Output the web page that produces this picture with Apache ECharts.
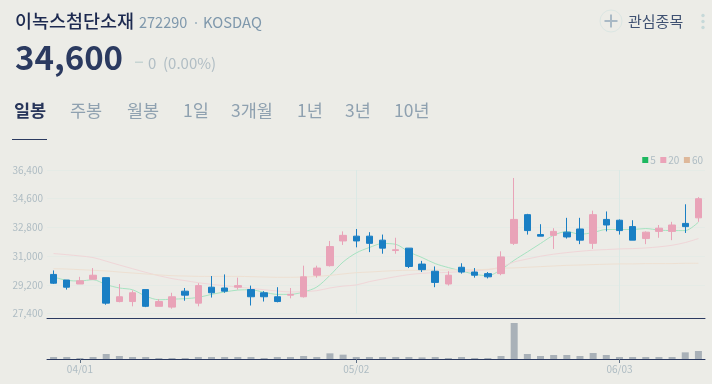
<!DOCTYPE html>
<html><head><meta charset="utf-8">
<style>html,body{margin:0;padding:0;background:#ecece7}#c{width:712px;height:384px}</style>
<script src="https://cdn.jsdelivr.net/npm/echarts@6/dist/echarts.min.js"></script>
</head><body><div id="c"></div>
<script>
const dates = ['03/28','03/29','04/01','04/02','04/03','04/04','04/05','04/08','04/09','04/10','04/11','04/12','04/15','04/16','04/17','04/18','04/19','04/22','04/23','04/24','04/25','04/26','04/29','05/02','05/03','05/07','05/08','05/09','05/10','05/13','05/14','05/15','05/16','05/17','05/20','05/21','05/22','05/23','05/24','05/27','05/28','05/29','05/30','06/03','06/04','06/05','06/07','06/10','06/11','06/12'];
const labelDates = ['04/01','05/02','06/03'];
const guideDates = ['05/02','06/03'];
const priceTicks = [27400,29200,31000,32800,34600,36400];
// open, close, low, high
const candles = [[29850,29300,29250,30100],[29500,29050,28900,29500],[29250,29450,29250,29700],[29550,29800,29550,30250],[29650,28050,27950,29650],[28150,28450,28100,29250],[28150,28700,27850,28850],[28900,27850,27800,28900],[27850,28150,27850,28300],[27800,28450,27700,28700],[28800,28550,28200,29000],[28050,29150,27850,29300],[29050,28700,28400,29750],[29000,28800,28700,29850],[29050,29150,28900,29650],[28900,28450,27900,29150],[28700,28450,28150,28800],[28450,28150,28100,29050],[28550,28600,28350,29000],[28450,29700,28400,30400],[29800,30250,29650,30400],[30400,31600,30350,31950],[31950,32300,31700,32550],[32250,31950,31550,32700],[32250,31800,31250,32500],[32000,31500,31150,32350],[31350,31400,31150,32150],[31500,30350,30250,31500],[30500,30150,30000,30700],[30050,29350,29050,30350],[29250,29800,29150,30050],[30300,30000,29900,30550],[30000,29800,29650,30250],[29900,29700,29600,30000],[29900,30950,29800,31300],[31800,33300,31700,35900],[33600,32600,32350,33650],[32350,32250,32250,33000],[32300,32550,31450,32750],[32500,32200,32100,33400],[32700,32000,31750,33400],[31800,33600,31450,33850],[33300,32950,32550,33800],[33250,32600,32350,33300],[32850,32000,32000,33250],[32100,32500,31750,32550],[32550,32750,32150,32950],[32550,32950,32000,33150],[33050,32850,32450,34250],[33400,34600,33150,34700]];
const ma5 = [29690,29480,29440,29520,29210,29000,28890,28490,28260,28300,28330,28410,28600,28750,28870,28890,28730,28600,28600,28750,29060,29790,30630,31200,31540,31790,31740,31260,30910,30530,30280,30070,29860,29770,30150,30740,31260,31790,32310,32540,32370,32480,32670,32670,32670,32730,32630,32600,32600,33130];
const ma20 = [31160,31090,31010,30910,30680,30440,30210,29980,29770,29590,29460,29330,29230,29140,29060,28980,28890,28810,28750,28770,28830,29000,29120,29190,29400,29560,29710,29840,29920,29960,29980,30030,30090,30150,30320,30630,30820,30990,31120,31220,31300,31370,31410,31450,31470,31510,31580,31680,31850,32100];
const ma60 = [30210,30190,30150,30110,30070,30000,29940,29880,29820,29770,29750,29730,29730,29730,29730,29710,29690,29670,29670,29690,29730,29790,29880,29960,30000,30050,30090,30110,30110,30130,30130,30150,30150,30170,30240,30260,30300,30340,30380,30420,30440,30470,30490,30510,30510,30530,30530,30530,30550,30550];
const volumes = [6000,6000,3000,6000,15000,9000,6000,6000,3000,3000,3000,6000,6000,6000,6000,6000,3000,6000,6000,9000,6000,17000,13000,6000,6000,6000,6000,6000,5000,6000,3000,6000,3000,3000,9000,108000,15000,9000,12000,12000,9000,18000,12000,6000,6000,6000,6000,6000,20000,24000];
const stockName = '이녹스첨단소재', stockCode = '272290', market = 'KOSDAQ', price = '34,600', change = '0', changePct = '(0.00%)';
const tabs = ['일봉','주봉','월봉','1일','3개월','1년','3년','10년'];
const tabX = [14,70,127,183,231,297,345,394];
const watch = '관심종목';

const F = '"Noto Sans CJK KR","Noto Sans",sans-serif';
const txt = (x,y,text,size,fill,weight,align) => ({type:'text',x,y,silent:true,style:{text,fontFamily:F,fontSize:size,fontWeight:weight||400,fill,textVerticalAlign:'middle',verticalAlign:'middle',textAlign:align||'left',align:align||'left'}});
const g = [
  txt(15,21,stockName,18.5,'#1d2a50',500),
  txt(139,22,stockCode,14.5,'#7f98ac',400),
  txt(192,22,'·',14.5,'#9fb2bf',400),
  txt(203,22,market,14.8,'#7f98ac',400),
  txt(15,57.5,price,33,'#2b3a60',700),
  {type:'rect',shape:{x:135,y:61.5,width:8,height:1.5},style:{fill:'#c6d4d2'},silent:true},
  txt(148,63.5,change,15,'#b0bdc4',400),
  txt(163,63.5,changePct,15,'#b0bdc4',400),
  {type:'rect',shape:{x:12,y:139,width:35,height:1},style:{fill:'#2b3a60'},silent:true},
  {type:'circle',shape:{cx:611,cy:21,r:11},style:{fill:'none',stroke:'#dbe6e3',lineWidth:1},silent:true},
  {type:'rect',shape:{x:604.5,y:20,width:13,height:2},style:{fill:'#a9b9c5'},silent:true},
  {type:'rect',shape:{x:610,y:14.5,width:2,height:13},style:{fill:'#a9b9c5'},silent:true},
  txt(628,21,watch,15,'#3f5172',400),
  {type:'circle',shape:{cx:703,cy:15.5,r:1.7},style:{fill:'#c6d9d9'},silent:true},
  {type:'circle',shape:{cx:703,cy:21.5,r:1.7},style:{fill:'#c6d9d9'},silent:true},
  {type:'circle',shape:{cx:703,cy:27.5,r:1.7},style:{fill:'#c6d9d9'},silent:true}
];
tabs.forEach((t,i)=>g.push(txt(tabX[i],110,t,17.5,i===0?'#27355a':'#8fa1b0',i===0?700:400)));

const line = (name,data,color) => ({name,type:'line',data,xAxisIndex:0,yAxisIndex:0,smooth:0.3,showSymbol:false,symbol:'none',z:1,silent:true,lineStyle:{width:1,color},itemStyle:{color}});
const chart = echarts.init(document.getElementById('c'),null,{renderer:'canvas'});
chart.setOption({
  animation:false,
  backgroundColor:'#ecece7',
  graphic:g,
  legend:{right:9,top:155,padding:0,itemWidth:6,itemHeight:6,itemGap:4.5,selectedMode:false,textStyle:{fontFamily:F,fontSize:10,color:'#aebcc3',padding:[0,0,0,-3]},
    data:[{name:'5',icon:'rect',itemStyle:{color:'#1fb860'}},{name:'20',icon:'rect',itemStyle:{color:'#eba3b8'}},{name:'60',icon:'rect',itemStyle:{color:'#deb89a'}}]},
  grid:[{left:47,right:7,top:170,height:143.5},{left:47,right:7,top:318.5,height:40.5}],
  xAxis:[
    {type:'category',gridIndex:0,data:dates,boundaryGap:true,axisLine:{show:false},axisTick:{show:false,alignWithLabel:true},axisLabel:{show:false},
      splitLine:{show:true,alignWithLabel:true,interval:(i,v)=>guideDates.includes(v),lineStyle:{color:'#dbe9e5',width:1}}},
    {type:'category',gridIndex:1,data:dates,boundaryGap:true,axisLine:{show:true,lineStyle:{color:'#2b3a60',width:1}},
      axisTick:{show:true,alignWithLabel:true,length:4,interval:(i,v)=>labelDates.includes(v),lineStyle:{color:'#5d6f84'}},
      axisLabel:{interval:(i,v)=>labelDates.includes(v),fontFamily:F,fontSize:10,color:'#aebcc3',margin:5,hideOverlap:false},splitLine:{show:false}},
    {type:'category',gridIndex:1,position:'top',data:dates,axisLine:{show:true,lineStyle:{color:'#2b3a60',width:1}},axisTick:{show:false},axisLabel:{show:false}}
  ],
  yAxis:[
    {type:'value',gridIndex:0,min:27400,max:36400,axisLine:{show:false},axisTick:{show:false,customValues:priceTicks},
      axisLabel:{customValues:priceTicks,fontFamily:F,fontSize:10,color:'#aebcc3',margin:4,formatter:v=>Number(v).toLocaleString('en-US')},
      splitLine:{show:true,lineStyle:{color:'#e5ebe6',width:1}}},
    {type:'value',gridIndex:1,min:0,max:121500,axisLine:{show:false},axisTick:{show:false},axisLabel:{show:false},splitLine:{show:false}}
  ],
  series:[
    line('5',ma5,'#a6e3c1'),
    line('20',ma20,'#f0d6d8'),
    line('60',ma60,'#eee0d2'),
    {name:'price',type:'candlestick',data:candles,xAxisIndex:0,yAxisIndex:0,barWidth:7,z:3,silent:true,
      itemStyle:{color:'#e9a3b8',borderColor:'#e9a3b8',color0:'#1a7fc4',borderColor0:'#1a7fc4',borderWidth:1}},
    {name:'volume',type:'bar',data:volumes,xAxisIndex:1,yAxisIndex:1,barWidth:7,silent:true,itemStyle:{color:'#a9b1b8'}}
  ]
});
</script></body></html>
